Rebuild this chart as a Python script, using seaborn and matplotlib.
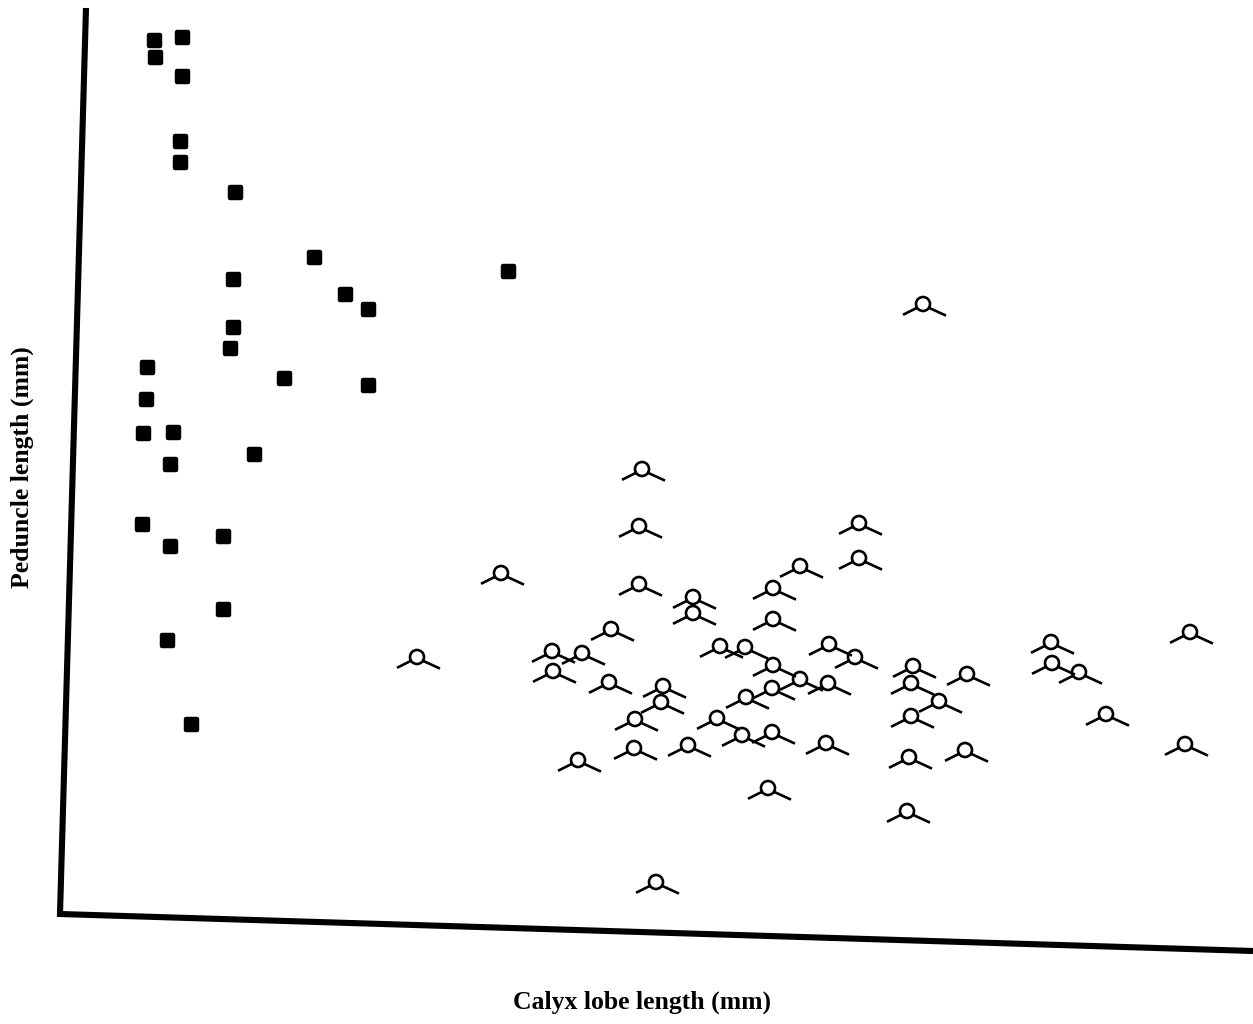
import numpy as np
import pandas as pd
import matplotlib
matplotlib.use("Agg")
import matplotlib.pyplot as plt
from matplotlib.path import Path
from matplotlib.lines import Line2D
import seaborn as sns

# ---------------- data (arbitrary units) ----------------
# Group A: filled squares
sq_calyx = [0.94, 1.22, 0.95, 1.22, 1.20, 1.20, 1.75, 2.54, 4.48, 1.73, 2.85, 3.08,
            1.73, 1.70, 0.87, 2.24, 3.08, 0.86, 0.83, 1.13, 1.10, 1.94, 0.82, 1.63,
            1.10, 1.63, 1.07, 1.31]
sq_peduncle = [8.74, 8.77, 8.57, 8.38, 7.73, 7.52, 7.22, 6.57, 6.43, 6.35, 6.20, 6.05,
               5.87, 5.66, 5.47, 5.36, 5.29, 5.15, 4.81, 4.82, 4.50, 4.60, 3.90, 3.78,
               3.68, 3.05, 2.74, 1.90]

# Group B: open circles with two legs
ci_calyx = [5.82, 5.79, 4.41, 5.79, 6.33, 6.33, 5.51, 3.57, 4.92, 5.22, 4.93, 5.49,
            6.03, 6.01, 5.75, 6.57, 6.82, 7.12, 6.60, 6.85, 7.13, 7.13, 7.13, 7.12,
            6.86, 7.40, 7.40, 5.74, 6.28, 5.18, 8.63, 7.99, 7.99, 7.69, 7.95, 7.68,
            8.53, 8.51, 9.07, 9.91, 9.92, 10.19, 11.30, 8.79, 8.51, 10.46, 7.66, 8.49,
            9.05, 7.08, 8.47, 5.96, 11.25]
ci_peduncle = [4.45, 3.88, 3.41, 3.30, 3.17, 3.01, 2.85, 2.57, 2.63, 2.61, 2.43, 2.32,
               2.28, 2.12, 1.95, 1.96, 1.79, 1.82, 2.68, 2.67, 3.26, 2.95, 2.49, 2.26,
               2.17, 3.48, 2.35, 1.66, 1.69, 1.54, 6.10, 3.91, 3.56, 2.70, 2.57, 2.31,
               2.48, 2.31, 2.40, 2.72, 2.51, 2.42, 2.82, 2.13, 1.98, 2.00, 1.71, 1.57,
               1.64, 1.26, 1.03, 0.32, 1.70]

x_label = "Calyx lobe length (mm)"
y_label = "Peduncle length (mm)"

df_sq = pd.DataFrame({"calyx": sq_calyx, "peduncle": sq_peduncle})
df_ci = pd.DataFrame({"calyx": ci_calyx, "peduncle": ci_peduncle})

# ---------------- style ----------------
sns.set_theme(style="white")
plt.rcParams["font.family"] = ["Liberation Serif", "DejaVu Serif"]

W, H = 1253, 1024
fig = plt.figure(figsize=(W / 100, H / 100), dpi=100)
ax = fig.add_axes([60 / W, 1 - 914 / H, 1193 / W, 904 / H])

# custom marker: circle with two downward legs
circle = Path.circle((0, 0), 7.0)
left_leg = Path([(-6.0, -3.8), (-20.0, -10.8)], [Path.MOVETO, Path.LINETO])
right_leg = Path([(6.0, -3.8), (23.0, -11.6)], [Path.MOVETO, Path.LINETO])
hat = Path.make_compound_path(circle, left_leg, right_leg)
hat_size_pt = 2 * 23.0 * 72 / 100

sns.scatterplot(data=df_sq, x="calyx", y="peduncle", ax=ax, marker="s",
                s=(11 * 72 / 100) ** 2, color="black", edgecolor="black",
                linewidth=3.2, joinstyle="round", clip_on=False, legend=False)

sns.scatterplot(data=df_ci, x="calyx", y="peduncle", ax=ax, marker=hat,
                s=hat_size_pt ** 2, color="black", facecolor="none",
                edgecolor="black", linewidth=1.9, capstyle="butt",
                clip_on=False, legend=False)

ax.set_xlim(0, 11.93)
ax.set_ylim(0, 9.04)
ax.set_xticks([])
ax.set_yticks([])
for sp in ax.spines.values():
    sp.set_visible(False)

ax.set_xlabel(x_label, fontsize=18.5, fontweight="bold", color="black")
ax.set_ylabel(y_label, fontsize=18.5, fontweight="bold", color="black")
ax.xaxis.set_label_coords((642 - 60) / 1193, -(991 - 914) / 904)
ax.yaxis.set_label_coords((34 - 60) / 1193, (914 - 467) / 904)

# slightly skewed axis lines as in the scanned original
fx = lambda px: px / W
fy = lambda py: 1 - py / H
fig.add_artist(Line2D([fx(86), fx(60), fx(1253)], [fy(8), fy(914), fy(951)],
                      transform=fig.transFigure, color="black", lw=4.4,
                      solid_joinstyle="miter", solid_capstyle="butt"))

fig.savefig("out.png", dpi=100, facecolor="white")
